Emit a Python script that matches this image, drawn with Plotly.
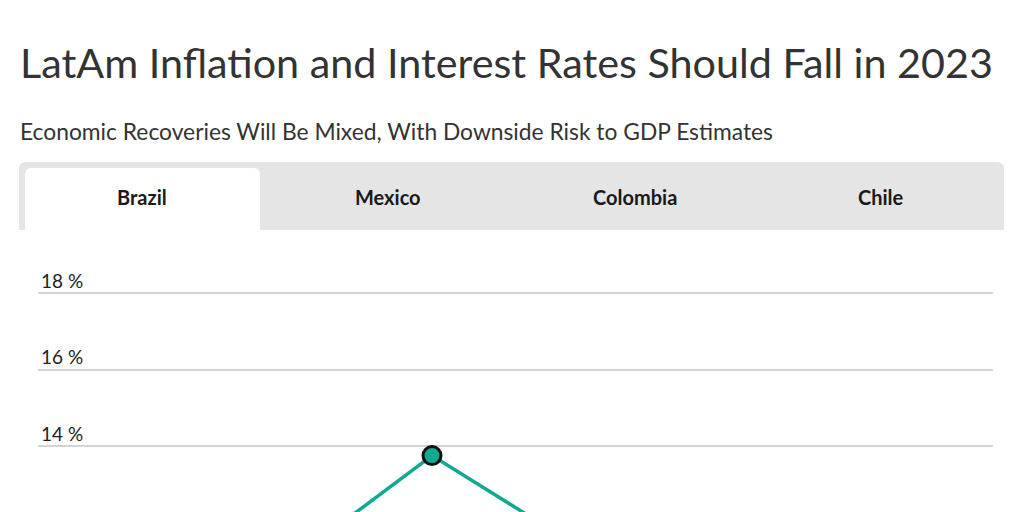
import plotly.graph_objects as go

# ---- data ----
years = [2020, 2021, 2022, 2023, 2024]
rate = [2.0, 9.92, 13.75, 10.56, 8.5]
tabs = ["Brazil", "Mexico", "Colombia", "Chile"]
tick_vals = [12, 14, 16, 18]
tick_text = ["12 %", "14 %", "16 %", "18 %"]
title = "LatAm Inflation and Interest Rates Should Fall in 2023"
subtitle = "Economic Recoveries Will Be Mixed, With Downside Risk to GDP Estimates"

OFF = 8  # page body margin: figure is drawn at (8, 8) on screen
W, H = 1016, 504
ML, MR, MT, MB = 30, 31, 250, 0   # plot area on screen: x 38..993, y 258..512
PW, PH = W - ML - MR, H - MT - MB

def px(sx):
    return (sx - OFF - ML) / PW

def py(sy):
    return (H - MB - (sy - OFF)) / PH

TEAL = "#12a891"
fig = go.Figure()
fig.add_trace(go.Scatter(
    x=years, y=rate, mode="lines",
    line=dict(color=TEAL, width=3.5),
    hoverinfo="skip", showlegend=False,
))
fig.add_trace(go.Scatter(
    x=[years[2]], y=[rate[2]], mode="markers",
    marker=dict(color=TEAL, size=18, line=dict(color="#111", width=3)),
    hoverinfo="skip", showlegend=False,
))

shapes = []
x0, x1, y0, y1, r = 19, 1004, 162, 230, 7
shapes.append(dict(
    type="path", xref="paper", yref="paper",
    path=(f"M {px(x0)},{py(y1)} L {px(x0)},{py(y0+r)} Q {px(x0)},{py(y0)} {px(x0+r)},{py(y0)} "
          f"L {px(x1-r)},{py(y0)} Q {px(x1)},{py(y0)} {px(x1)},{py(y0+r)} L {px(x1)},{py(y1)} Z"),
    fillcolor="#e5e5e5", line=dict(width=0), layer="below"))
a0, a1, b0 = 25, 260, 168
shapes.append(dict(
    type="path", xref="paper", yref="paper",
    path=(f"M {px(a0)},{py(y1)} L {px(a0)},{py(b0+r)} Q {px(a0)},{py(b0)} {px(a0+r)},{py(b0)} "
          f"L {px(a1-r)},{py(b0)} Q {px(a1)},{py(b0)} {px(a1)},{py(b0+r)} L {px(a1)},{py(y1)} Z"),
    fillcolor="#ffffff", line=dict(width=0), layer="below"))

annotations = [
    dict(text=title, xref="paper", yref="paper", x=px(18), y=py(62), xanchor="left", yanchor="middle",
         showarrow=False, font=dict(family="Lato", size=41.3, color="#333333", weight=400)),
    dict(text=subtitle, xref="paper", yref="paper", x=px(18), y=py(131), xanchor="left", yanchor="middle",
         showarrow=False, font=dict(family="Lato", size=22.8, color="#333333")),
]
tw = (x1 - x0) / len(tabs)
for i, t in enumerate(tabs):
    annotations.append(dict(
        text=f"<b>{t}</b>", xref="paper", yref="paper", x=px(x0 + tw * (i + 0.5)), y=py(197),
        xanchor="center", yanchor="middle", showarrow=False,
        font=dict(family="Lato", size=20, color="#1a1a1a")))

fig.update_layout(
    width=W, height=H,
    margin=dict(l=ML, r=MR, t=MT, b=MB, pad=0),
    paper_bgcolor="white", plot_bgcolor="white",
    shapes=shapes, annotations=annotations,
    xaxis=dict(range=[2019.99, 2024.862], visible=False, fixedrange=True),
    yaxis=dict(range=[12.275, 18.915], tickvals=tick_vals, ticktext=tick_text,
               ticklabelposition="inside", ticklabelshift=-12, ticklabelstandoff=0,
               gridcolor="#d4d4d4", gridwidth=2, zeroline=False, showline=False,
               tickfont=dict(family="Lato", size=19, color="#222222"), fixedrange=True),
    font=dict(family="Lato"),
)
fig.write_html("out.html", config={"displayModeBar": False})
